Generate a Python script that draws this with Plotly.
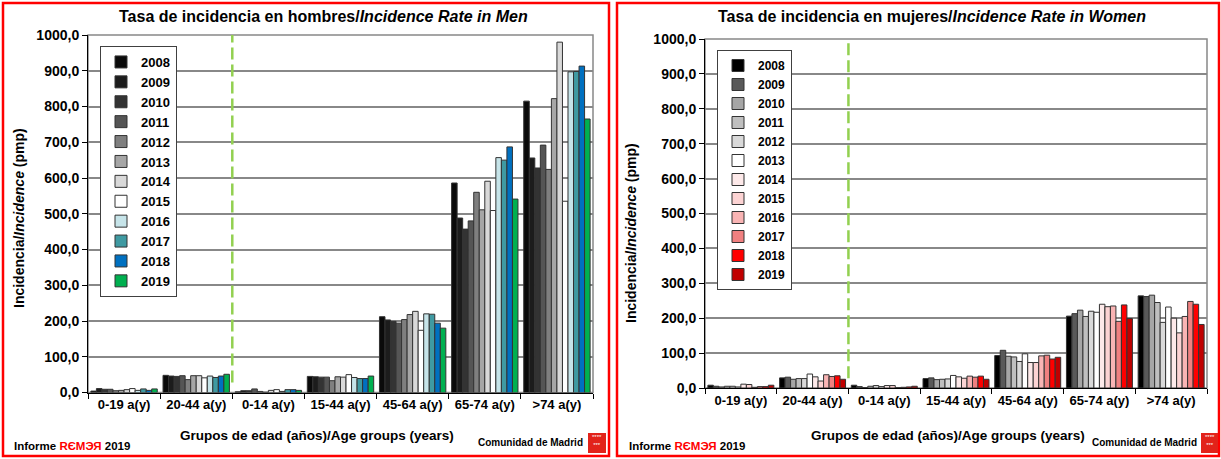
import plotly.graph_objects as go

W, H = 1221, 459

years = ["2008", "2009", "2010", "2011", "2012", "2013",
         "2014", "2015", "2016", "2017", "2018", "2019"]
age_groups = ["0-19 a(y)", "20-44 a(y)", "0-14 a(y)", "15-44 a(y)",
              "45-64 a(y)", "65-74 a(y)", ">74 a(y)"]

# incidence per million, one list per age group, values 2008..2019
men_0_19 = [4, 11, 9, 9, 5, 6, 8, 11, 6, 10, 6, 10]
men_20_44 = [48, 46, 45, 47, 36, 47, 47, 41, 46, 42, 46, 51]
men_0_14 = [2, 5, 5, 10, 3, 1, 6, 8, 3, 8, 8, 6]
men_15_44 = [45, 44, 43, 43, 33, 44, 43, 50, 42, 39, 39, 46]
men_45_64 = [212, 203, 199, 194, 204, 218, 227, 174, 220, 219, 194, 180]
men_65_74 = [586, 488, 457, 480, 560, 511, 591, 509, 657, 650, 687, 541]
men_75 = [815, 656, 628, 692, 624, 822, 980, 535, 897, 898, 913, 765]

women_0_19 = [8, 5, 3, 5, 5, 3, 11, 10, 2, 4, 4, 8]
women_20_44 = [29, 31, 25, 27, 27, 40, 32, 20, 38, 33, 35, 25]
women_0_14 = [8, 4, 1, 5, 7, 4, 7, 7, 1, 2, 3, 5]
women_15_44 = [27, 29, 24, 25, 26, 36, 32, 28, 34, 31, 34, 25]
women_45_64 = [93, 108, 91, 89, 76, 98, 73, 73, 92, 94, 83, 88]
women_65_74 = [206, 213, 223, 205, 220, 217, 240, 233, 235, 191, 238, 199]
women_75 = [264, 262, 266, 245, 188, 232, 200, 158, 205, 248, 240, 182]

men_colors = ["#0a0a0a", "#1c1c1c", "#333333", "#555555", "#7f7f7f", "#a6a6a6",
              "#d9d9d9", "#ffffff", "#c6e4e9", "#3f9aa2", "#0070c0", "#00b050"]
women_colors = ["#000000", "#595959", "#a6a6a6", "#bfbfbf", "#d9d9d9", "#ffffff",
                "#fde9e9", "#fcd3d3", "#f9b4b4", "#f08080", "#ff0000", "#c00000"]

men_groups = [men_0_19, men_20_44, men_0_14, men_15_44, men_45_64, men_65_74, men_75]
women_groups = [women_0_19, women_20_44, women_0_14, women_15_44, women_45_64,
                women_65_74, women_75]


def px_x(x):
    return x / W


def px_y(y):
    return 1 - y / H


fig = go.Figure()

for i, year in enumerate(years):
    fig.add_trace(go.Bar(
        x=age_groups, y=[g[i] for g in men_groups], name=year,
        marker=dict(color=men_colors[i], line=dict(color="#333333", width=1)),
        xaxis="x", yaxis="y", legend="legend", legendgroup="m" + year,
    ))
for i, year in enumerate(years):
    fig.add_trace(go.Bar(
        x=age_groups, y=[g[i] for g in women_groups], name=year,
        marker=dict(color=women_colors[i], line=dict(color="#333333", width=1)),
        xaxis="x2", yaxis="y2", legend="legend2", legendgroup="w" + year,
    ))

font_family = "Liberation Sans, Arial"
xaxis_style = dict(showline=True, linecolor="black", linewidth=1, ticks="outside",
                   tickson="boundaries", ticklen=5, tickcolor="black", showgrid=False,
                   tickfont=dict(family=font_family, size=13, color="black", weight="bold"),
                   fixedrange=True, automargin=False)
yaxis_style = dict(range=[0, 1000], dtick=100, tickformat=".1f", showline=True,
                   linecolor="black", linewidth=1, ticks="outside", ticklen=5,
                   tickcolor="black", gridcolor="#888888", gridwidth=1.5,
                   zeroline=False,
                   tickfont=dict(family=font_family, size=14, color="black", weight="bold"),
                   fixedrange=True, automargin=False)

legend_style = dict(xanchor="left", yanchor="top", bgcolor="white",
                    bordercolor="#404040", borderwidth=1, tracegroupgap=0,
                    itemwidth=30, itemclick=False, itemdoubleclick=False)
legend_font = dict(family=font_family, color="black", weight="bold")

fig.update_layout(
    width=W, height=H,
    margin=dict(l=0, r=0, t=0, b=0, pad=0, autoexpand=False),
    paper_bgcolor="white", plot_bgcolor="white",
    barmode="group", bargap=0.08, bargroupgap=0,
    separators=", ",
    font=dict(family=font_family, size=13, color="black"),
    showlegend=True,
    xaxis=dict(domain=[px_x(88), px_x(593)], anchor="y", **xaxis_style),
    yaxis=dict(domain=[px_y(392.5), px_y(35)], anchor="x", **yaxis_style),
    xaxis2=dict(domain=[px_x(705), px_x(1207)], anchor="y2", **xaxis_style),
    yaxis2=dict(domain=[px_y(388), px_y(39)], anchor="x2", **yaxis_style),
    legend=dict(x=px_x(100), y=px_y(46), font=dict(size=13, **legend_font),
                **legend_style),
    legend2=dict(x=px_x(717), y=px_y(50), font=dict(size=12, **legend_font),
                 **legend_style),
)

shapes = []
for xr, yr in (("x", "y"), ("x2", "y2")):
    # grey frame on top/right of plot area
    shapes.append(dict(type="rect", xref=xr + " domain", yref=yr + " domain",
                       x0=0, x1=1, y0=0, y1=1, layer="below",
                       line=dict(color="#888888", width=1.5)))
    # green dashed separator between the two paediatric/adult group blocks
    shapes.append(dict(type="line", xref=xr, yref=yr, x0=1.5, x1=1.5, y0=28, y1=1000,
                       line=dict(color="#92d050", width=2.5, dash="12px,5px")))

# red panel borders
for x0, x1 in ((3, 609), (617, 1219)):
    shapes.append(dict(type="rect", xref="paper", yref="paper",
                       x0=px_x(x0), x1=px_x(x1), y0=px_y(456), y1=px_y(3),
                       line=dict(color="#ff0000", width=2.5)))
# Comunidad de Madrid flags
for x0, x1 in ((588, 606), (1201, 1218)):
    shapes.append(dict(type="rect", xref="paper", yref="paper",
                       x0=px_x(x0), x1=px_x(x1), y0=px_y(453), y1=px_y(433),
                       fillcolor="#e2231a", line=dict(width=0)))
fig.update_layout(shapes=shapes)

ann = []


def add_text(text, x, y, size, xanchor="center", angle=0, color="black"):
    ann.append(dict(text=text, x=px_x(x), y=px_y(y), xref="paper", yref="paper",
                    xanchor=xanchor, yanchor="middle", showarrow=False,
                    textangle=angle,
                    font=dict(family=font_family, size=size, color=color)))


add_text("<b>Tasa de incidencia en hombres/<i>Incidence Rate in Men</i></b>", 323, 17, 16)
add_text("<b>Tasa de incidencia en mujeres/<i>Incidence Rate in Women</i></b>", 932, 17, 16)
add_text("<b>Incidencia/<i>Incidence</i> (pmp)</b>", 19, 218, 14, angle=-90)
add_text("<b>Incidencia/<i>Incidence</i> (pmp)</b>", 631, 233, 14, angle=-90)
add_text("<b>Grupos de edad (años)/Age groups (years)</b>", 317, 435, 13.5)
add_text("<b>Grupos de edad (años)/Age groups (years)</b>", 948, 435, 13.5)
for x in (12, 627):
    add_text("<b>Informe <span style='color:#ff0000'>RЄMЭЯ</span> 2019</b>", x, 446, 11.5,
             xanchor="left")
for x_end, flag_c in ((585, 597), (1199, 1209.5)):
    add_text("<b>Comunidad de Madrid</b>", x_end, 442, 10, xanchor="right")
    add_text("****<br>***", flag_c, 441, 6, color="white")

fig.update_layout(annotations=ann)

# pin the 1221x459 figure to the window's top-left corner so page margins don't shift it
pin_js = ("document.body.style.margin='0';"
          "var d=document.getElementById('{plot_id}');"
          "d.style.position='fixed';d.style.top='0';d.style.left='0';")
fig.write_html("out.html", config={"displayModeBar": False}, post_script=pin_js)
